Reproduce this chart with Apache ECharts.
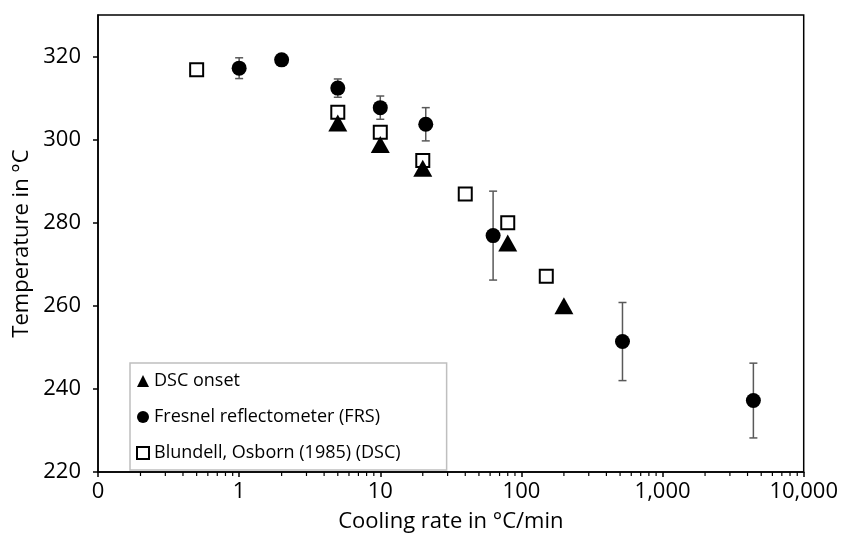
<!DOCTYPE html>
<html>
<head>
<meta charset="utf-8">
<script src="https://cdn.jsdelivr.net/npm/echarts@6/dist/echarts.min.js"></script>
<style>
  html, body { margin: 0; padding: 0; background: #fff; }
  #main { width: 841px; height: 538px; }
</style>
</head>
<body>
<div id="main"></div>
<script>
// DSC onset (triangles)
var dscRate = [5, 10, 20, 80, 200];
var dscTemp = [304, 298.8, 293.1, 275.1, 260];
// Fresnel reflectometer (circles) with error bars
var frsRate = [1, 2, 5, 10, 21, 63, 520, 4400];
var frsTemp = [317.2, 319.2, 312.4, 307.7, 303.7, 276.9, 251.4, 237.2];
var frsErr = [2.5, 1, 2.2, 2.8, 4, 10.7, 9.4, 9];
// Blundell, Osborn (1985) (squares)
var bluRate = [0.5, 5, 10, 20, 40, 80, 150];
var bluTemp = [316.8, 306.6, 301.8, 295, 286.9, 280, 267.1];
// axis ticks
var yTicks = [220, 240, 260, 280, 300, 320];
var legendNames = ['DSC onset', 'Fresnel reflectometer (FRS)', 'Blundell, Osborn (1985) (DSC)'];

function zip(a, b) { return a.map(function (v, i) { return [v, b[i]]; }); }

// log minor ticks 2..9 in every decade
var minorVals = [];
for (var k = -1; k < 4; k++) {
  for (var m = 2; m < 10; m++) minorVals.push([m * Math.pow(10, k), 220]);
}

var font = 'Open Sans';
var chart = echarts.init(document.getElementById('main'));
chart.setOption({
  animation: false,
  textStyle: { fontFamily: font },
  grid: { left: 98, right: 37, top: 15, bottom: 63, show: true, borderColor: '#000', borderWidth: 1.5 },
  legend: {
    data: legendNames,
    orient: 'vertical',
    left: 130, top: 363,
    padding: [8, 46, 7, 6],
    itemWidth: 12, itemHeight: 12, itemGap: 16,
    borderColor: '#bfbfbf', borderWidth: 1.5, borderRadius: 0,
    textStyle: { fontFamily: font, fontSize: 18, color: '#000', lineHeight: 20 }
  },
  xAxis: {
    type: 'log', logBase: 10, min: 0.1, max: 10000,
    name: 'Cooling rate in °C/min', nameLocation: 'middle', nameGap: 39,
    nameTextStyle: { fontSize: 22, color: '#000', fontFamily: font },
    axisLine: { lineStyle: { color: '#000', width: 1.5 } },
    axisTick: { inside: false, length: 5, lineStyle: { color: '#000', width: 1.5 } },
    axisLabel: {
      fontSize: 22, color: '#000', margin: 9,
      formatter: function (v) { return v < 1 ? '0' : Math.round(v).toLocaleString('en-US'); }
    },
    splitLine: { show: false }
  },
  yAxis: {
    type: 'value', min: 220, max: 330, interval: 20,
    name: 'Temperature in °C', nameLocation: 'middle', nameGap: 57,
    nameTextStyle: { fontSize: 22, color: '#000', fontFamily: font },
    axisLine: { show: true, lineStyle: { color: '#000', width: 1.5 } },
    axisTick: { show: true, length: 5, customValues: yTicks, lineStyle: { color: '#000', width: 1.5 } },
    axisLabel: { fontSize: 22, color: '#000', margin: 17, customValues: yTicks },
    splitLine: { show: false }
  },
  series: [
    {
      // minor ticks on the log axis
      type: 'custom', silent: true, clip: false, z: 1,
      data: minorVals,
      renderItem: function (params, api) {
        var p = api.coord([api.value(0), api.value(1)]);
        return { type: 'line', shape: { x1: p[0], y1: p[1], x2: p[0], y2: p[1] + 4 }, style: { stroke: '#000', lineWidth: 1.2 } };
      }
    },
    {
      // error bars FRS
      type: 'custom', silent: true, z: 2,
      data: frsRate.map(function (r, i) { return [r, frsTemp[i], frsErr[i]]; }),
      renderItem: function (params, api) {
        var x = api.value(0), y = api.value(1), e = api.value(2);
        var top = api.coord([x, y + e]);
        var bot = api.coord([x, y - e]);
        var st = { stroke: '#595959', lineWidth: 1.5 };
        return {
          type: 'group',
          children: [
            { type: 'line', shape: { x1: top[0], y1: top[1], x2: bot[0], y2: bot[1] }, style: st },
            { type: 'line', shape: { x1: top[0] - 4, y1: top[1], x2: top[0] + 4, y2: top[1] }, style: st },
            { type: 'line', shape: { x1: bot[0] - 4, y1: bot[1], x2: bot[0] + 4, y2: bot[1] }, style: st }
          ]
        };
      }
    },
    {
      name: legendNames[2], type: 'scatter', z: 3,
      symbol: 'rect', symbolSize: 13,
      itemStyle: { color: '#fff', borderColor: '#000', borderWidth: 2, opacity: 1 },
      data: zip(bluRate, bluTemp)
    },
    {
      name: legendNames[0], type: 'scatter', z: 4,
      symbol: 'triangle', symbolSize: [19, 17],
      itemStyle: { color: '#000', opacity: 1 },
      data: zip(dscRate, dscTemp)
    },
    {
      name: legendNames[1], type: 'scatter', z: 5,
      symbol: 'circle', symbolSize: 15,
      itemStyle: { color: '#000', opacity: 1 },
      data: zip(frsRate, frsTemp)
    }
  ]
});
</script>
</body>
</html>
